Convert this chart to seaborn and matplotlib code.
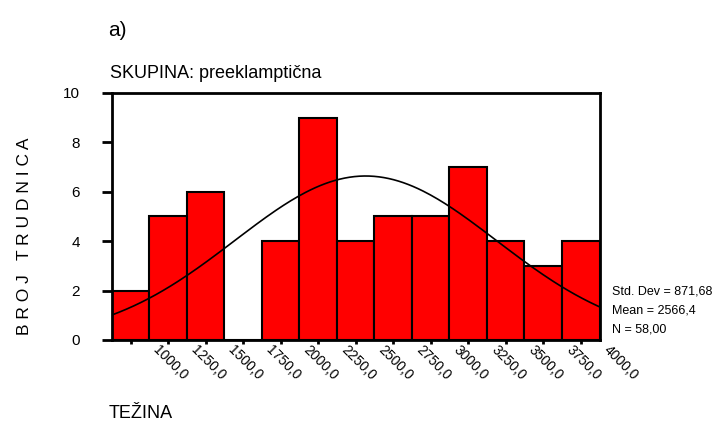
import numpy as np
import pandas as pd
import matplotlib
matplotlib.use("Agg")
import matplotlib.pyplot as plt
import matplotlib.transforms as mtransforms
import seaborn as sns

# histogram data (bin centres, width 250)
bin_centers = [1000, 1250, 1500, 1750, 2000, 2250, 2500, 2750, 3000, 3250, 3500, 3750, 4000]
counts = [2, 5, 6, 0, 4, 9, 4, 5, 5, 7, 4, 3, 4]
tick_labels = ["1000,0", "1250,0", "1500,0", "1750,0", "2000,0", "2250,0", "2500,0",
               "2750,0", "3000,0", "3250,0", "3500,0", "3750,0", "4000,0"]
std_dev = 871.68
mean = 2566.4
n = 58
bin_width = 250
stats_lines = ["Std. Dev = 871,68", "Mean = 2566,4", "N = 58,00"]

sns.set_style("white")
plt.rcParams["font.family"] = ["Liberation Sans", "DejaVu Sans"]
plt.rcParams["text.color"] = "black"
plt.rcParams["xtick.color"] = "black"
plt.rcParams["ytick.color"] = "black"

fig = plt.figure(figsize=(7.12, 4.29), dpi=100)
ax = fig.add_axes([0.157, 0.2075, 0.685, 0.576])

df = pd.DataFrame({"tezina": bin_centers, "broj": counts})
sns.histplot(data=df, x="tezina", weights="broj", binwidth=bin_width,
             binrange=(bin_centers[0] - bin_width / 2, bin_centers[-1] + bin_width / 2),
             color="#ff0000", edgecolor="black", linewidth=1.5, alpha=1, ax=ax)

# fitted normal curve from the printed statistics
xs = np.linspace(bin_centers[0] - bin_width / 2, bin_centers[-1] + bin_width / 2, 200)
ys = n * bin_width / (std_dev * np.sqrt(2 * np.pi)) * np.exp(-0.5 * ((xs - mean) / std_dev) ** 2)
sns.lineplot(x=xs, y=ys, color="black", linewidth=1.2, ax=ax)

ax.set_xlim(bin_centers[0] - bin_width / 2, bin_centers[-1] + bin_width / 2)
ax.set_ylim(0, 10)
ax.set_yticks([0, 2, 4, 6, 8, 10])
ax.set_xticks(bin_centers)
ax.set_xticklabels([])

# SPSS puts the rotated labels a bit to the right of each tick
trans = mtransforms.blended_transform_factory(ax.transData, ax.transAxes)
trans = trans + mtransforms.ScaledTranslation(0.25, -0.08, fig.dpi_scale_trans)
for xv, lab in zip(bin_centers, tick_labels):
    ax.text(xv, 0, lab, transform=trans, rotation=-45, rotation_mode="anchor",
            ha="left", va="center", fontsize=10, clip_on=False)

ax.tick_params(axis="y", direction="out", length=7, width=2, pad=16, labelsize=11, left=True)
ax.tick_params(axis="x", direction="out", length=3, width=2, pad=0, bottom=True)
for s in ax.spines.values():
    s.set_color("black")
    s.set_linewidth(2)
ax.set_xlabel("")
ax.set_ylabel("")

fig.text(0.152, 0.93, "a)", fontsize=15, va="center", ha="left")
fig.text(0.155, 0.828, "SKUPINA: preeklamptična", fontsize=13, va="center", ha="left")
fig.text(0.152, 0.037, "TEŽINA", fontsize=13, va="center", ha="left")
fig.text(0.035, 0.45, "B R O J   T R U D N I C A", fontsize=12.5, rotation=90,
         va="center", ha="center")
for i, line in enumerate(stats_lines):
    fig.text(0.859, 0.32 - i * 0.044, line, fontsize=9, va="center", ha="left")

fig.savefig("out.png", dpi=100)
